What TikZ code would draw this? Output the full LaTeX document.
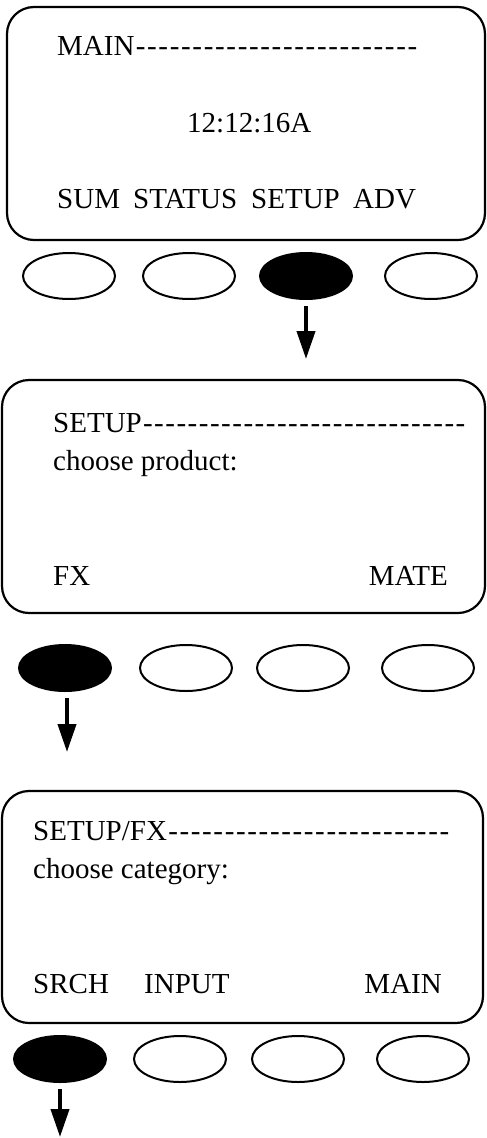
\documentclass[tikz,border=0pt]{standalone}
\usepackage{fontspec}
\setmainfont{Liberation Serif}
\usetikzlibrary{shapes.geometric,arrows.meta,calc}
\newcommand{\dashline}[1]{\hbox to #1{\xleaders\hbox to 11.1pt{\hss-\hss}\hfill}}
\begin{document}
\begin{tikzpicture}[x=1pt,y=-1pt,
  screen/.style={draw, line width=2.2pt, rounded corners=27pt, inner sep=0pt, outer sep=0pt},
  txt/.style={anchor=base west, inner sep=0pt, font=\fontsize{29}{31}\selectfont},
  txtr/.style={txt, anchor=base east},
  key/.style={ellipse, draw, line width=2pt, minimum width=92pt, minimum height=46pt, inner sep=0pt},
  pressed/.style={key, fill=black},
  flow/.style={line width=4pt, -{Triangle[length=28pt,width=18pt]}}]
\useasboundingbox (0,0) rectangle (487,1138);

% ---------- screen 1 ----------
\node[screen, minimum width=478pt, minimum height=233pt] (s1) at (246,123.5) {};
\node[txt] (t1) at (57,55) {MAIN};
\path let \p1=(t1.base east) in node[txt] (d1) at (\p1) {\dashline{\dimexpr418pt-\x1\relax}};
\node[txt] (clk) at (187,132) {12:12:16A};
\node[txt] (l11) at (57,208) {SUM};
\node[txt] (l12) at (133,208) {STATUS};
\node[txt] (l13) at (251,208) {SETUP};
\node[txt] (l14) at (353,208) {ADV};
\node[key] (k11) at (69,276) {};
\node[key] (k12) at (189,276) {};
\node[pressed] (k13) at (306,276) {};
\node[key] (k14) at (431,276) {};

% ---------- screen 2 ----------
\node[screen, minimum width=483pt, minimum height=233pt] (s2) at (243.5,496.5) {};
\node[txt] (t2) at (53,432) {SETUP};
\path let \p1=(t2.base east) in node[txt] (d2) at (\p1) {\dashline{\dimexpr466pt-\x1\relax}};
\node[txt] (p2) at (53,470) {choose product:};
\node[txt] (l21) at (53,585) {FX};
\node[txtr] (l24) at (448,585) {MATE};
\node[pressed] (k21) at (65,668) {};
\node[key] (k22) at (186,668) {};
\node[key] (k23) at (303,668) {};
\node[key] (k24) at (428,668) {};

% ---------- screen 3 ----------
\node[screen, minimum width=481pt, minimum height=232pt] (s3) at (242.5,907) {};
\node[txt] (t3) at (33,840) {SETUP/FX};
\path let \p1=(t3.base east) in node[txt] (d3) at (\p1) {\dashline{\dimexpr450pt-\x1\relax}};
\node[txt] (p3) at (33,878) {choose category:};
\node[txt] (l31) at (33,993) {SRCH};
\node[txt] (l32) at (144,993) {INPUT};
\node[txtr] (l34) at (442,993) {MAIN};
\node[pressed] (k31) at (60,1059) {};
\node[key] (k32) at (180,1059) {};
\node[key] (k33) at (298,1059) {};
\node[key] (k34) at (423,1059) {};

% ---------- connectors ----------
\coordinate (end3) at (60,1137);
\draw[flow] ([yshift=-6pt]k13.south) -- ([yshift=21pt]s2.north -| k13);
\draw[flow] ([yshift=-6pt,xshift=2pt]k21.south) -- ([yshift=39pt,xshift=2pt]s3.north -| k21);
\draw[flow] ([yshift=-6pt]k31.south) -- (end3);
\end{tikzpicture}
\end{document}
